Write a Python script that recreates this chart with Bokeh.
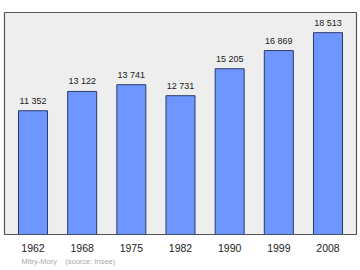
from bokeh.plotting import figure
from bokeh.models import FactorRange, Range1d, Title, ColumnDataSource
from bokeh.embed import file_html
from bokeh.resources import INLINE
from bokeh.core.properties import value

years = ["1962", "1968", "1975", "1982", "1990", "1999", "2008"]
population = [11352, 13122, 13741, 12731, 15205, 16869, 18513]
labels = ["11 352", "13 122", "13 741", "12 731", "15 205", "16 869", "18 513"]
commune = "Mitry-Mory"
source_txt = "(source: Insee)"

src = ColumnDataSource(dict(x=years, y=population, lab=labels))

p = figure(width=360, height=270, output_backend="svg", toolbar_location=None,
           x_range=FactorRange(*years, range_padding=0.08, range_padding_units="absolute"),
           y_range=Range1d(0, max(population) * 1.1),
           min_border_left=4, min_border_right=4, min_border_top=12, min_border_bottom=0)
p.background_fill_color = "#eeeeee"
p.border_fill_color = "white"
p.outline_line_color = "#555555"
p.outline_line_width = 1.2
p.grid.visible = False
p.yaxis.visible = False

p.vbar(x="x", top="y", width=0.59, source=src, fill_color="#6f96ff",
       line_color="#2a3a66", line_width=1)
p.text(x="x", y="y", text="lab", source=src, text_align="center", text_baseline="bottom",
       y_offset=-5, text_font=value("Liberation Sans"), text_font_size="9px", text_color="#222222")

ax = p.xaxis[0]
ax.axis_line_color = None
ax.major_tick_line_color = None
ax.minor_tick_line_color = None
ax.major_label_standoff = 3
ax.major_label_text_font = "Liberation Sans"
ax.major_label_text_font_size = "10.5px"
ax.major_label_text_color = "#222222"

footer = commune + "\u00a0\u00a0\u00a0\u00a0" + source_txt
p.add_layout(Title(text=footer, align="left", offset=17, standoff=0,
                   text_font="Liberation Sans", text_font_size="7.5px",
                   text_font_style="normal", text_color="#aaaaaa"), "below")
p.add_layout(Title(text="\u00a0", standoff=0, text_font_size="3px"), "below")

open("out.html", "w").write(file_html(p, INLINE))
